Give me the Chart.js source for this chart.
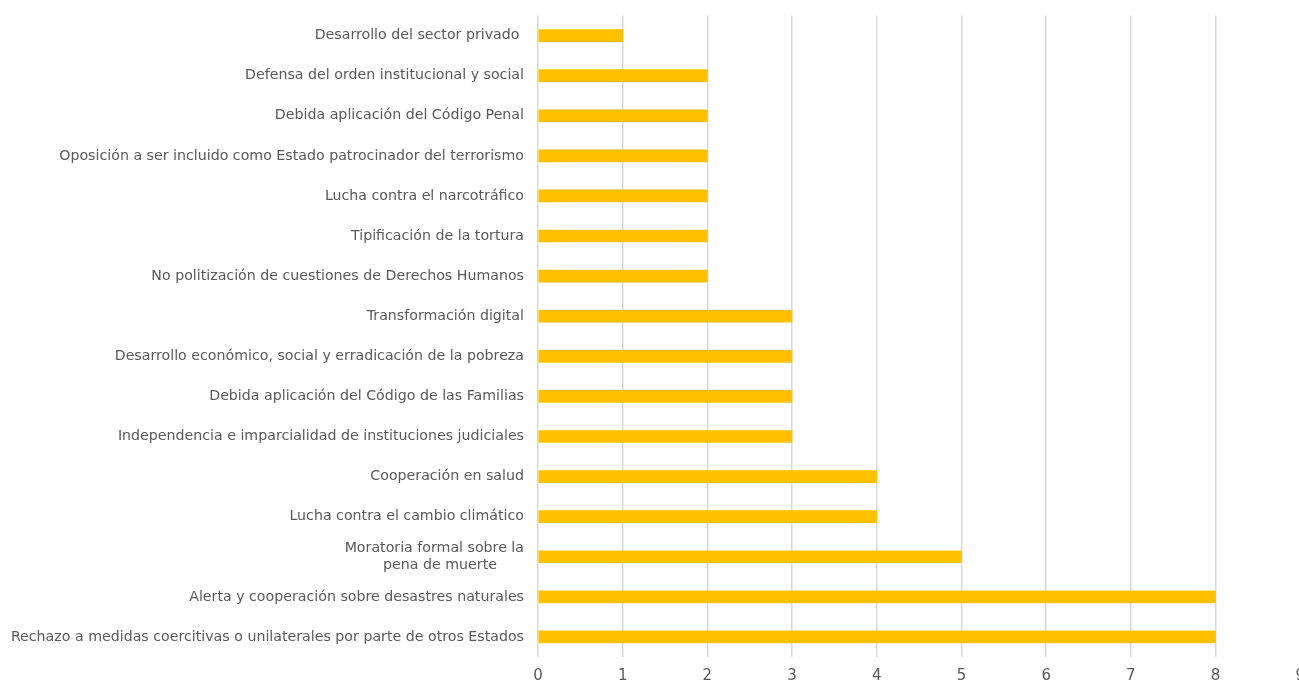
<!DOCTYPE html>
<html>
<head>
<meta charset="utf-8">
<script src="https://cdn.jsdelivr.net/npm/chart.js@4/dist/chart.umd.min.js"></script>
<style>
  html, body { margin: 0; padding: 0; background: #fff; overflow: hidden; }
  #wrap { width: 1299px; height: 680px; overflow: hidden; }
  #myChart { display: block; margin-top: -7px; }
</style>
</head>
<body>
<div id="wrap"><canvas id="myChart" width="1315" height="702"></canvas></div>
<script>
'use strict';

let temas = [
    'Desarrollo del sector privado ',
    'Defensa del orden institucional y social',
    'Debida aplicación del Código Penal',
    'Oposición a ser incluido como Estado patrocinador del terrorismo',
    'Lucha contra el narcotráfico',
    'Tipificación de la tortura',
    'No politización de cuestiones de Derechos Humanos',
    'Transformación digital',
    'Desarrollo económico, social y erradicación de la pobreza',
    'Debida aplicación del Código de las Familias',
    'Independencia e imparcialidad de instituciones judiciales',
    'Cooperación en salud',
    'Lucha contra el cambio climático',
    ['Moratoria formal sobre la', 'pena de muerte      '],
    'Alerta y cooperación sobre desastres naturales',
    'Rechazo a medidas coercitivas o unilaterales por parte de otros Estados'
];

let cantidades = [1, 2, 2, 2, 2, 2, 2, 3, 3, 3, 3, 4, 4, 5, 8, 8];

let ejeMin = 0;
let ejeMax = 9;

let fuente = "'DejaVu Sans', sans-serif";

let ctx = document.getElementById('myChart').getContext('2d');
let myChart = new Chart(ctx, {
    type: 'bar',
    data: {
        labels: temas,
        datasets: [{
            data: cantidades,
            backgroundColor: '#FFC000',
            borderWidth: 0,
            barThickness: 12
        }]
    },
    options: {
        indexAxis: 'y',
        responsive: false,
        animation: false,
        layout: { padding: { top: 8, left: 0, right: 0, bottom: 0 } },
        plugins: {
            legend: { display: false },
            tooltip: { enabled: false }
        },
        scales: {
            x: {
                min: ejeMin,
                max: ejeMax,
                ticks: {
                    stepSize: 1,
                    padding: 10,
                    color: '#595959',
                    font: { family: fuente, size: 15 }
                },
                grid: {
                    color: '#d9d9d9',
                    lineWidth: 1.5,
                    drawTicks: false
                },
                border: { display: false }
            },
            y: {
                ticks: {
                    padding: 14,
                    color: '#595959',
                    font: { family: fuente, size: 14.2 },
                    autoSkip: false
                },
                grid: { display: false, drawTicks: false },
                border: { display: false },
                afterFit: function (scale) {
                    scale.width = 538;
                }
            }
        }
    }
});
</script>
</body>
</html>
